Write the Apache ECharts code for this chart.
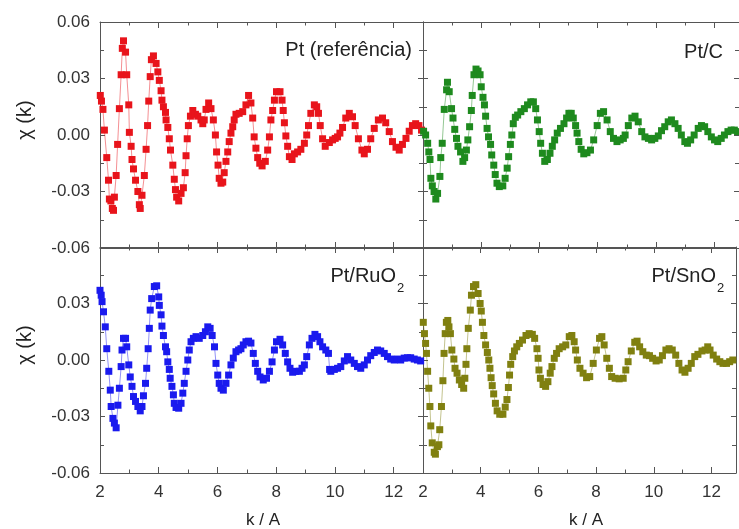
<!DOCTYPE html>
<html>
<head>
<meta charset="utf-8">
<script src="https://cdn.jsdelivr.net/npm/echarts@6/dist/echarts.min.js"></script>
<style>
  html, body { margin: 0; padding: 0; background: #fff; }
  #chart { width: 739px; height: 529px; }
</style>
</head>
<body>
<div id="chart"></div>
<script>
// Pt (referência)
var kRed = [2.01, 2.05, 2.10, 2.15, 2.23, 2.29, 2.32, 2.37, 2.42, 2.46, 2.49, 2.55, 2.60, 2.66, 2.72, 2.76, 2.80, 2.87, 2.91, 2.98,
  3.00, 3.06, 3.09, 3.14, 3.21, 3.29, 3.34, 3.37, 3.43, 3.51, 3.57, 3.62, 3.66, 3.71, 3.75, 3.82, 3.91, 3.97, 4.02, 4.08,
  4.11, 4.16, 4.23, 4.25, 4.31, 4.36, 4.40, 4.48, 4.53, 4.57, 4.61, 4.68, 4.76, 4.84, 4.90, 4.93, 4.97, 5.01, 5.08, 5.16,
  5.25, 5.33, 5.44, 5.50, 5.55, 5.61, 5.70, 5.78, 5.86, 5.93, 5.97, 6.02, 6.06, 6.12, 6.18, 6.23, 6.29, 6.35, 6.40, 6.46,
  6.52, 6.57, 6.63, 6.74, 6.86, 6.97, 7.06, 7.14, 7.20, 7.25, 7.31, 7.37, 7.44, 7.52, 7.63, 7.71, 7.77, 7.82, 7.88, 7.94,
  8.01, 8.13, 8.20, 8.24, 8.28, 8.33, 8.39, 8.45, 8.54, 8.62, 8.73, 8.84, 8.96, 9.04, 9.10, 9.18, 9.30, 9.38, 9.44, 9.50,
  9.58, 9.67, 9.81, 9.92, 10.01, 10.09, 10.17, 10.26, 10.37, 10.49, 10.60, 10.69, 10.80, 10.92, 11.00, 11.11, 11.22, 11.34, 11.48, 11.62,
  11.73, 11.85, 11.96, 12.08, 12.19, 12.30, 12.42, 12.53, 12.64, 12.75, 12.86, 12.95];
var chiRed = [0.021, 0.018, 0.0136, 0.0026, -0.012, -0.024, -0.034, -0.035, -0.039, -0.040, -0.033, -0.0215, -0.005, 0.014, 0.032, 0.046, 0.050, 0.044, 0.032, 0.016,
  0.0014, -0.006, -0.013, -0.018, -0.024, -0.030, -0.037, -0.039, -0.032, -0.0215, -0.0076, 0.005, 0.018, 0.031, 0.040, 0.042, 0.038, 0.0335, 0.029, 0.0235,
  0.0185, 0.015, 0.012, 0.008, 0.004, -0.002, -0.008, -0.016, -0.0235, -0.029, -0.033, -0.035, -0.031, -0.028, -0.020, -0.011, -0.002, 0.005, 0.010, 0.013,
  0.011, 0.010, 0.008, 0.006, 0.008, 0.0136, 0.017, 0.014, 0.008, 0.000, -0.009, -0.016, -0.023, -0.0256, -0.025, -0.020, -0.014, -0.009, -0.0035, 0.001,
  0.0044, 0.008, 0.011, 0.0115, 0.0124, 0.016, 0.021, 0.017, 0.009, -0.001, -0.007, -0.012, -0.015, -0.0164, -0.014, -0.008, -0.001, 0.008, 0.013, 0.0185,
  0.023, 0.023, 0.0185, 0.013, 0.0065, -0.0005, -0.006, -0.0115, -0.013, -0.010, -0.009, -0.0076, -0.0044, 0.000, 0.005, 0.0115, 0.016, 0.015, 0.0115, 0.005,
  -0.002, -0.006, -0.004, -0.0026, -0.0018, -0.001, 0.001, 0.004, 0.009, 0.0115, 0.0097, 0.005, -0.002, -0.008, -0.010, -0.0076, -0.002, 0.0035, 0.008, 0.009,
  0.0065, 0.0018, -0.0035, -0.0065, -0.008, -0.005, -0.0018, 0.002, 0.005, 0.006, 0.005, 0.0026];

// Pt/C
var kGreen = [2.02, 2.09, 2.16, 2.20, 2.24, 2.27, 2.32, 2.38, 2.44, 2.50, 2.58, 2.61, 2.66, 2.73, 2.81, 2.84, 2.90, 2.98, 3.03, 3.09,
  3.15, 3.20, 3.29, 3.37, 3.43, 3.49, 3.54, 3.60, 3.66, 3.69, 3.75, 3.82, 3.89, 3.96, 4.00, 4.06, 4.11, 4.15, 4.20, 4.25,
  4.32, 4.36, 4.43, 4.48, 4.54, 4.62, 4.74, 4.82, 4.89, 4.94, 5.00, 5.05, 5.10, 5.17, 5.25, 5.36, 5.48, 5.59, 5.70, 5.79,
  5.87, 5.93, 5.99, 6.04, 6.10, 6.18, 6.27, 6.36, 6.44, 6.52, 6.61, 6.72, 6.84, 6.93, 7.01, 7.09, 7.16, 7.24, 7.29, 7.35,
  7.43, 7.52, 7.63, 7.75, 7.86, 7.98, 8.09, 8.20, 8.32, 8.43, 8.54, 8.66, 8.77, 8.88, 8.94, 9.05, 9.17, 9.28, 9.39, 9.51,
  9.62, 9.74, 9.85, 9.96, 10.08, 10.19, 10.30, 10.42, 10.53, 10.65, 10.76, 10.87, 10.99, 11.08, 11.19, 11.31, 11.45, 11.56, 11.67, 11.78,
  11.90, 12.01, 12.12, 12.24, 12.35, 12.47, 12.58, 12.69, 12.80];
var chiGreen = [0.002, 0.000, -0.0044, -0.009, -0.013, -0.023, -0.027, -0.030, -0.034, -0.031, -0.022, -0.012, -0.0044, 0.0136, 0.024, 0.028, 0.023, 0.014, 0.009, 0.003,
  -0.0018, -0.006, -0.009, -0.014, -0.012, -0.008, -0.0026, 0.0044, 0.013, 0.021, 0.032, 0.035, 0.034, 0.032, 0.0256, 0.020, 0.016, 0.010, 0.0035, -0.001,
  -0.005, -0.0106, -0.016, -0.021, -0.0256, -0.0274, -0.027, -0.023, -0.0176, -0.0115, -0.005, 0.000, 0.006, 0.0094, 0.0106, 0.0124, 0.014, 0.016, 0.0176, 0.0176,
  0.014, 0.008, 0.0018, -0.0044, -0.0097, -0.014, -0.013, -0.0097, -0.006, -0.0026, 0.001, 0.0035, 0.006, 0.009, 0.0115, 0.0115, 0.009, 0.005, 0.001, -0.0035,
  -0.0076, -0.010, -0.0094, -0.008, -0.0026, 0.005, 0.0115, 0.0124, 0.008, 0.0018, -0.0018, -0.0035, -0.0026, -0.0018, 0.000, 0.005, 0.009, 0.010, 0.007, 0.0018,
  -0.001, -0.0018, -0.0026, -0.0018, -0.0005, 0.0023, 0.0044, 0.007, 0.008, 0.006, 0.0035, 0.000, -0.0035, -0.0044, -0.0026, 0.000, 0.0035, 0.005, 0.0044, 0.0018,
  -0.001, -0.0026, -0.0035, -0.0018, 0.000, 0.0018, 0.0026, 0.0026, 0.0018];

// Pt/RuO2
var kBlue = [2.00, 2.04, 2.07, 2.12, 2.18, 2.23, 2.30, 2.35, 2.38, 2.44, 2.49, 2.55, 2.61, 2.66, 2.72, 2.75, 2.80, 2.87, 2.91, 2.98,
  3.03, 3.09, 3.14, 3.21, 3.29, 3.37, 3.43, 3.48, 3.55, 3.59, 3.64, 3.68, 3.71, 3.76, 3.85, 3.93, 4.00, 4.02, 4.08, 4.11,
  4.16, 4.23, 4.27, 4.31, 4.36, 4.39, 4.45, 4.50, 4.53, 4.59, 4.68, 4.76, 4.82, 4.87, 4.93, 4.99, 5.04, 5.10, 5.18, 5.27,
  5.38, 5.50, 5.59, 5.67, 5.75, 5.82, 5.90, 5.95, 6.01, 6.06, 6.12, 6.20, 6.29, 6.38, 6.46, 6.54, 6.63, 6.72, 6.80, 6.88,
  6.97, 7.06, 7.14, 7.22, 7.29, 7.37, 7.45, 7.56, 7.67, 7.77, 7.86, 7.94, 8.01, 8.13, 8.22, 8.31, 8.39, 8.47, 8.56, 8.67,
  8.79, 8.88, 8.96, 9.04, 9.13, 9.22, 9.32, 9.41, 9.49, 9.58, 9.69, 9.78, 9.82, 9.86, 9.98, 10.09, 10.20, 10.32, 10.43, 10.54,
  10.66, 10.77, 10.88, 11.00, 11.11, 11.22, 11.34, 11.45, 11.56, 11.68, 11.79, 11.90, 12.02, 12.13, 12.24, 12.36, 12.47, 12.58, 12.70, 12.81,
  12.92];
var chiBlue = [0.037, 0.0344, 0.031, 0.0256, 0.0176, 0.006, -0.006, -0.016, -0.0247, -0.031, -0.0335, -0.036, -0.024, -0.015, -0.0035, 0.0053, 0.0115, 0.0115, 0.007, -0.0026,
  -0.009, -0.014, -0.0194, -0.022, -0.0247, -0.027, -0.0247, -0.019, -0.0124, -0.0044, 0.006, 0.0168, 0.0265, 0.0326, 0.039, 0.0394, 0.0335, 0.029, 0.024, 0.018,
  0.013, 0.007, 0.0044, -0.001, -0.005, -0.0097, -0.014, -0.0185, -0.023, -0.0252, -0.0256, -0.023, -0.0176, -0.0124, -0.006, 0.000, 0.0053, 0.0097, 0.0115, 0.0124,
  0.0115, 0.013, 0.015, 0.0176, 0.0168, 0.013, 0.007, -0.0018, -0.008, -0.0124, -0.015, -0.016, -0.0124, -0.008, -0.0026, 0.001, 0.0044, 0.0053, 0.006, 0.008,
  0.0097, 0.010, 0.009, 0.0035, -0.0018, -0.006, -0.009, -0.0106, -0.0097, -0.006, -0.001, 0.0053, 0.0097, 0.011, 0.008, 0.0035, -0.001, -0.0044, -0.0065, -0.006,
  -0.006, -0.0044, -0.0026, 0.0018, 0.008, 0.0115, 0.0136, 0.0124, 0.0097, 0.007, 0.0053, 0.0035, -0.005, -0.006, -0.005, -0.0044, -0.0035, -0.0005, 0.0018, 0.000,
  -0.0018, -0.0035, -0.0044, -0.0026, 0.000, 0.0023, 0.004, 0.0053, 0.0048, 0.0035, 0.0018, 0.0005, 0.000, 0.0005, 0.000, 0.001, 0.0012, 0.0012, 0.0005, 0.000,
  -0.0005];

// Pt/SnO2
var kOlive = [2.01, 2.05, 2.09, 2.12, 2.16, 2.20, 2.24, 2.27, 2.32, 2.39, 2.43, 2.50, 2.55, 2.58, 2.64, 2.69, 2.73, 2.77, 2.81, 2.86,
  2.90, 2.95, 3.00, 3.07, 3.11, 3.18, 3.26, 3.34, 3.41, 3.45, 3.49, 3.52, 3.57, 3.64, 3.68, 3.75, 3.83, 3.91, 3.98, 4.02,
  4.06, 4.11, 4.17, 4.23, 4.28, 4.32, 4.36, 4.40, 4.45, 4.51, 4.57, 4.66, 4.77, 4.85, 4.91, 4.96, 5.00, 5.04, 5.11, 5.17,
  5.25, 5.34, 5.45, 5.57, 5.68, 5.79, 5.87, 5.95, 5.99, 6.02, 6.07, 6.16, 6.25, 6.33, 6.41, 6.47, 6.55, 6.63, 6.72, 6.84,
  6.95, 7.07, 7.16, 7.24, 7.29, 7.35, 7.44, 7.55, 7.67, 7.78, 7.90, 8.01, 8.12, 8.20, 8.28, 8.37, 8.46, 8.54, 8.66, 8.80,
  8.94, 9.03, 9.11, 9.22, 9.34, 9.42, 9.51, 9.62, 9.74, 9.85, 9.96, 10.08, 10.19, 10.30, 10.42, 10.53, 10.64, 10.76, 10.87, 10.98,
  11.08, 11.19, 11.30, 11.42, 11.53, 11.67, 11.78, 11.87, 11.95, 12.06, 12.18, 12.29, 12.40, 12.52, 12.63, 12.74];
var chiOlive = [0.020, 0.014, 0.0088, 0.0035, -0.006, -0.015, -0.0247, -0.035, -0.044, -0.049, -0.050, -0.046, -0.045, -0.037, -0.0247, -0.011, 0.0035, 0.014, 0.020, 0.021,
  0.0176, 0.014, 0.0053, 0.0005, -0.0044, -0.007, -0.0106, -0.013, -0.015, -0.0097, -0.0023, 0.006, 0.0168, 0.0265, 0.0344, 0.039, 0.040, 0.0353, 0.030, 0.026,
  0.020, 0.013, 0.008, 0.004, 0.000, -0.0044, -0.0094, -0.0136, -0.018, -0.023, -0.027, -0.0288, -0.0288, -0.025, -0.021, -0.0146, -0.008, -0.0023, 0.0018, 0.0048,
  0.007, 0.0088, 0.0106, 0.013, 0.014, 0.0136, 0.0115, 0.006, 0.0009, -0.0053, -0.0097, -0.013, -0.014, -0.0115, -0.007, -0.0035, 0.0009, 0.0035, 0.006, 0.007,
  0.008, 0.0124, 0.013, 0.0097, 0.0053, 0.000, -0.0044, -0.007, -0.0094, -0.0088, -0.0018, 0.0053, 0.0115, 0.0124, 0.008, 0.0009, -0.0044, -0.0088, -0.0097, -0.010,
  -0.0097, -0.0053, -0.0009, 0.0048, 0.0094, 0.010, 0.007, 0.0044, 0.0026, 0.0023, 0.0009, -0.0005, 0.000, 0.0023, 0.0053, 0.006, 0.0053, 0.0026, -0.0018, -0.0053,
  -0.0065, -0.0044, -0.0018, 0.0018, 0.003, 0.0048, 0.0053, 0.007, 0.0053, 0.0026, 0.0005, -0.0009, -0.0018, -0.0018, -0.0009, 0.000];

// tick labels
var xLabels = [2, 4, 6, 8, 10, 12];
var yLabelsTop = ['0.06', '0.03', '0.00', '-0.03', '-0.06'];
var yLabelsBottom = ['0.03', '0.00', '-0.03', '-0.06'];

var panelNames = ['Pt (referência)', 'Pt/C', 'Pt/RuO', 'Pt/SnO'];
var colors = ['#e8141b', '#1e8a1e', '#1a1aee', '#808010'];

var axisColor = '#555';
var textColor = '#333';
var font = 'Liberation Sans, Arial, sans-serif';

var grids = [
  { left: 100, top: 22, width: 323, height: 226 },
  { left: 423, top: 22, width: 318.5, height: 226 },
  { left: 100, top: 247, width: 323, height: 226 },
  { left: 423, top: 247, width: 318.5, height: 226 }
];
var xMax = [13, 12.85, 13, 12.85];

function zip(a, b) {
  var out = [];
  for (var i = 0; i < a.length; i++) out.push([a[i], b[i]]);
  return out;
}

var xAxes = [], yAxes = [];
grids.forEach(function (g, i) {
  var bottomRow = i >= 2;
  var leftCol = i % 2 === 0;
  ['bottom', 'top'].forEach(function (pos) {
    // major ticks every 2
    xAxes.push({
      gridIndex: i, type: 'value', position: pos, min: 2, max: xMax[i], interval: 2,
      axisLine: { show: true, onZero: false, lineStyle: { color: axisColor, width: 1 } },
      axisTick: { show: true, inside: true, length: 6, lineStyle: { color: axisColor } },
      splitLine: { show: false },
      axisLabel: {
        show: pos === 'bottom' && bottomRow, margin: 11, fontSize: 17, color: textColor, fontFamily: font,
        formatter: function (v) { return xLabels.indexOf(Math.round(v * 100) / 100) >= 0 ? String(v) : ''; }
      }
    });
    // minor ticks every 1
    xAxes.push({
      gridIndex: i, type: 'value', position: pos, offset: 0, min: 2, max: xMax[i], interval: 1,
      axisLine: { show: false, onZero: false },
      axisTick: { show: true, inside: true, length: 3.5, lineStyle: { color: axisColor } },
      splitLine: { show: false },
      axisLabel: { show: false }
    });
  });
  ['left', 'right'].forEach(function (pos) {
    var labels = bottomRow ? yLabelsBottom : yLabelsTop;
    yAxes.push({
      gridIndex: i, type: 'value', position: pos, min: -0.06, max: 0.06, interval: 0.03,
      axisLine: { show: true, onZero: false, lineStyle: { color: axisColor, width: 1 } },
      axisTick: { show: true, inside: true, length: 5, lineStyle: { color: axisColor } },
      minorTick: { show: true, splitNumber: 2, length: 4, lineStyle: { color: axisColor } },
      splitLine: { show: false },
      axisLabel: {
        show: pos === 'left' && leftCol, margin: 10, fontSize: 17, color: textColor, fontFamily: font,
        formatter: function (v) {
          var s = Math.abs(v) < 1e-9 ? '0.00' : v.toFixed(2);
          return labels.indexOf(s) >= 0 ? s : '';
        }
      }
    });
  });
});

var seriesData = [zip(kRed, chiRed), zip(kGreen, chiGreen), zip(kBlue, chiBlue), zip(kOlive, chiOlive)];
var series = seriesData.map(function (d, i) {
  return {
    name: panelNames[i], type: 'line', data: d,
    xAxisIndex: i * 4, yAxisIndex: i * 2,
    symbol: 'rect', symbolSize: 7, showSymbol: true,
    itemStyle: { color: colors[i] },
    lineStyle: { color: colors[i], width: 0.8, opacity: 0.6 },
    animation: false, silent: true
  };
});

function label(text, x, y, size, align) {
  return {
    type: 'text', x: x, y: y, silent: true,
    style: { text: text, fill: '#222', font: size + 'px ' + font, align: align, verticalAlign: 'middle' }
  };
}

var graphics = [
  label(panelNames[0], 412, 50, 20, 'right'),
  label(panelNames[1], 723, 52, 20, 'right'),
  label(panelNames[2], 396, 276, 20, 'right'),
  label('2', 397, 288, 13, 'left'),
  label(panelNames[3], 716, 276, 20, 'right'),
  label('2', 717, 288, 13, 'left'),
  label('k / A', 263, 520, 17, 'center'),
  label('k / A', 586, 520, 17, 'center'),
  Object.assign(label('χ (k)', 25, 120, 20, 'center'), { rotation: Math.PI / 2 }),
  Object.assign(label('χ (k)', 25, 345, 20, 'center'), { rotation: Math.PI / 2 })
];

var chart = echarts.init(document.getElementById('chart'), null, { renderer: 'canvas' });
chart.setOption({
  backgroundColor: '#fff',
  animation: false,
  grid: grids,
  xAxis: xAxes,
  yAxis: yAxes,
  series: series,
  graphic: graphics
});
</script>
</body>
</html>
